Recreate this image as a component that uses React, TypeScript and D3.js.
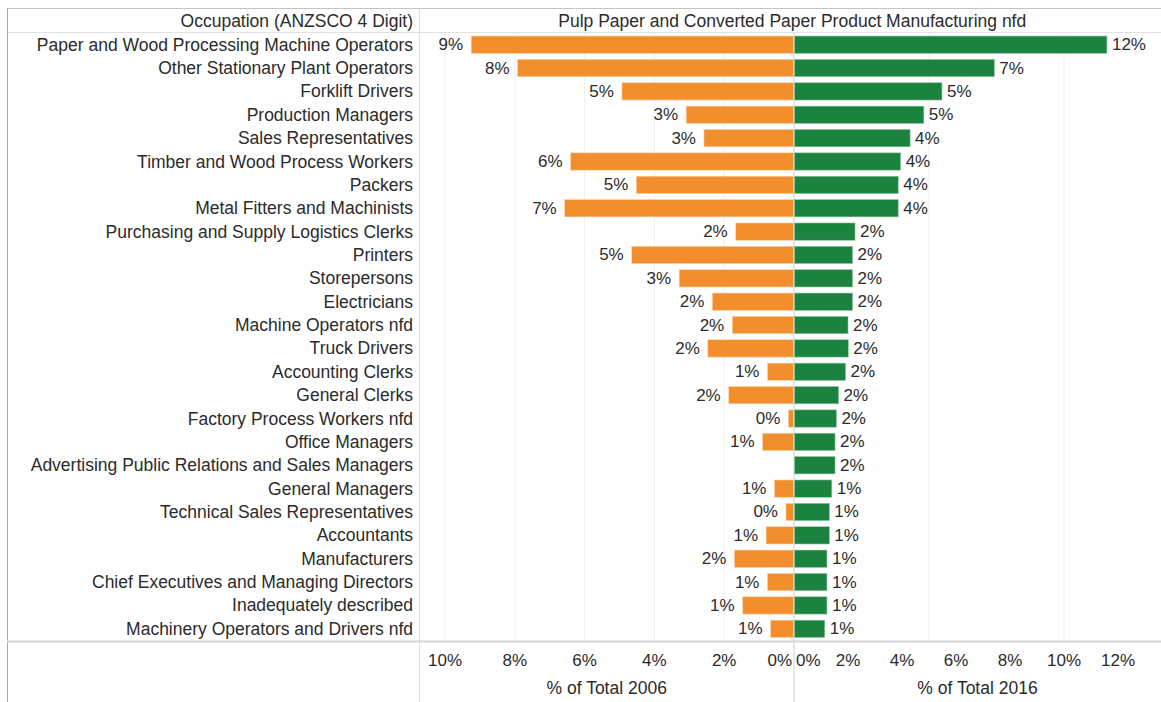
import React from 'react';
import * as d3 from 'd3';

// occupations, sorted the same way as the source table
const occupations = [
  'Paper and Wood Processing Machine Operators',
  'Other Stationary Plant Operators',
  'Forklift Drivers',
  'Production Managers',
  'Sales Representatives',
  'Timber and Wood Process Workers',
  'Packers',
  'Metal Fitters and Machinists',
  'Purchasing and Supply Logistics Clerks',
  'Printers',
  'Storepersons',
  'Electricians',
  'Machine Operators nfd',
  'Truck Drivers',
  'Accounting Clerks',
  'General Clerks',
  'Factory Process Workers nfd',
  'Office Managers',
  'Advertising Public Relations and Sales Managers',
  'General Managers',
  'Technical Sales Representatives',
  'Accountants',
  'Manufacturers',
  'Chief Executives and Managing Directors',
  'Inadequately described',
  'Machinery Operators and Drivers nfd',
];

// % of total
const share2006: (number | null)[] = [
  9.25, 7.92, 4.93, 3.09, 2.58, 6.4, 4.52, 6.57, 1.67, 4.65, 3.29, 2.34, 1.77,
  2.47, 0.76, 1.87, 0.16, 0.9, null, 0.56, 0.23, 0.8, 1.71, 0.76, 1.47, 0.67,
];
const share2016 = [
  11.59, 7.42, 5.48, 4.81, 4.3, 3.95, 3.86, 3.86, 2.26, 2.17, 2.17, 2.17, 2.0,
  2.01, 1.91, 1.65, 1.57, 1.52, 1.52, 1.4, 1.31, 1.31, 1.22, 1.22, 1.22, 1.14,
];

const ticks2006 = [0, 2, 4, 6, 8, 10];
const ticks2016 = [0, 2, 4, 6, 8, 10, 12];
const grid2016 = [5, 10];

const headerLeft = 'Occupation (ANZSCO 4 Digit)';
const headerRight = 'Pulp Paper and Converted Paper Product Manufacturing nfd';
const title2006 = '% of Total 2006';
const title2016 = '% of Total 2016';

const W = 1161;
const H = 702;
const FONT = '"Liberation Sans", Arial, sans-serif';
const ORANGE = '#f28e2b';
const GREEN = '#1b823f';
const TEXT = '#2b2b2b';
const LABEL_SIZE = 17.5;
const NUM_SIZE = 17;

export default function App() {
  const colX = 419.5;
  const zeroX = 794;
  const rowTop = 33;
  const rowBottom = 641;

  const xLeft = d3.scaleLinear().domain([0, 10]).range([zeroX, 445]);
  const xRight = d3.scaleLinear().domain([0, 12]).range([zeroX, zeroX + 12 * 27]);
  const y = d3.scaleBand<string>()
    .domain(occupations)
    .range([rowTop, rowBottom - 0.5])
    .paddingInner(0.26)
    .paddingOuter(0.13);

  const pct = (v: number) => d3.format('.0%')(v / 100);
  const bw = y.bandwidth();

  return (
    <svg width={W} height={H} style={{ position: 'absolute', left: 0, top: 0, background: '#fff' }}
      fontFamily={FONT}>
      {/* gridlines */}
      {ticks2006.filter(t => t > 0).map(t => (
        <line key={'gl' + t} x1={xLeft(t)} x2={xLeft(t)} y1={rowTop} y2={rowBottom}
          stroke="#efefef" strokeWidth={1} />
      ))}
      {grid2016.map(t => (
        <line key={'gr' + t} x1={xRight(t)} x2={xRight(t)} y1={rowTop} y2={rowBottom}
          stroke="#efefef" strokeWidth={1} />
      ))}

      {/* frame */}
      <line x1={7} x2={W} y1={8.5} y2={8.5} stroke="#c4c4c4" />
      <line x1={7} x2={W} y1={32.5} y2={32.5} stroke="#e2e2e2" />
      <line x1={7.5} x2={7.5} y1={8} y2={H} stroke="#a8a8a8" />
      <line x1={colX} x2={colX} y1={8} y2={H} stroke="#dcdcdc" />
      <line x1={7} x2={W} y1={rowBottom + 0.5} y2={rowBottom + 0.5} stroke="#d6d6d6" strokeWidth={2} />
      <line x1={zeroX} x2={zeroX} y1={rowTop} y2={H} stroke="#d0d0d0" />

      {/* header */}
      <text x={413} y={20.5} textAnchor="end" dominantBaseline="central" fontSize={LABEL_SIZE} fill={TEXT}>
        {headerLeft}
      </text>
      <text x={(colX + W) / 2 + 2} y={20.5} textAnchor="middle" dominantBaseline="central" fontSize={LABEL_SIZE} fill={TEXT}>
        {headerRight}
      </text>

      {occupations.map((occ, i) => {
        const cy = (y(occ) as number) + bw / 2;
        const a = share2006[i];
        const b = share2016[i];
        return (
          <g key={occ}>
            <text x={413} y={cy} textAnchor="end" dominantBaseline="central" fontSize={LABEL_SIZE} fill={TEXT}>
              {occ}
            </text>
            {a !== null && (
              <>
                <rect x={xLeft(a)} y={y(occ)} width={zeroX - xLeft(a) - 0.5} height={bw}
                  fill={ORANGE} stroke="#fbd3ad" strokeWidth={0.6} />
                <text x={xLeft(a) - 8} y={cy} textAnchor="end" dominantBaseline="central" fontSize={NUM_SIZE} fill={TEXT}>
                  {pct(a)}
                </text>
              </>
            )}
            <rect x={zeroX + 0.5} y={y(occ)} width={xRight(b) - zeroX - 0.5} height={bw}
              fill={GREEN} stroke="#8fc79f" strokeWidth={0.6} />
            <text x={xRight(b) + 5} y={cy} textAnchor="start" dominantBaseline="central" fontSize={NUM_SIZE} fill={TEXT}>
              {pct(b)}
            </text>
          </g>
        );
      })}

      {/* axes */}
      {ticks2006.map(t => (
        <text key={'tl' + t} x={t === 0 ? zeroX - 2 : xLeft(t)} y={660}
          textAnchor={t === 0 ? 'end' : 'middle'} dominantBaseline="central" fontSize={NUM_SIZE} fill={TEXT}>
          {pct(t)}
        </text>
      ))}
      {ticks2016.map(t => (
        <text key={'tr' + t} x={t === 0 ? zeroX + 2 : xRight(t)} y={660}
          textAnchor={t === 0 ? 'start' : 'middle'} dominantBaseline="central" fontSize={NUM_SIZE} fill={TEXT}>
          {pct(t)}
        </text>
      ))}
      <text x={(colX + zeroX) / 2} y={688} textAnchor="middle" dominantBaseline="central" fontSize={LABEL_SIZE} fill={TEXT}>
        {title2006}
      </text>
      <text x={(zeroX + W) / 2} y={688} textAnchor="middle" dominantBaseline="central" fontSize={LABEL_SIZE} fill={TEXT}>
        {title2016}
      </text>
    </svg>
  );
}
